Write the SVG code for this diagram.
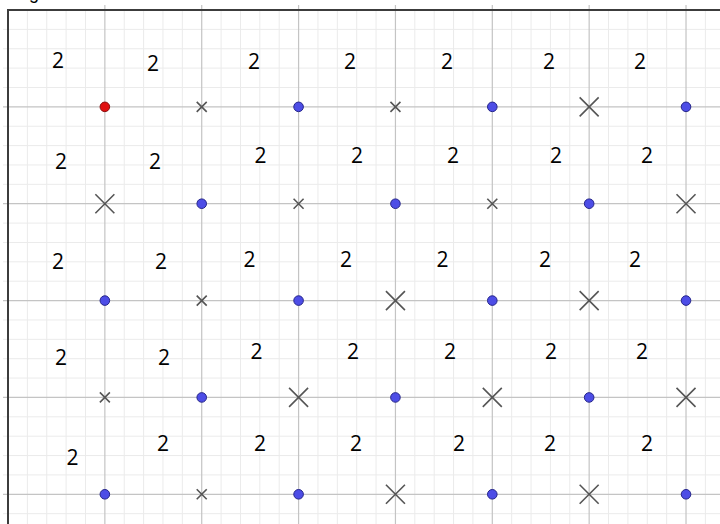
<svg xmlns="http://www.w3.org/2000/svg" xmlns:xlink="http://www.w3.org/1999/xlink" width="720" height="524" viewBox="0 0 720 524">
<style>
.minor{stroke:#ebebeb;stroke-width:1;fill:none}
.major{stroke:#c4c4c4;stroke-width:1.2;fill:none}
.border{stroke:#3c3c3c;stroke-width:2;fill:none}
.cross{stroke:#555;stroke-width:1.6;fill:none}
.dot{fill:#4d4de6;stroke:#25258a;stroke-width:1}
.red{fill:#e01010;stroke:#8a1010;stroke-width:1}
.lbl{font-family:"Open Sans","Liberation Sans",sans-serif;font-size:21px;fill:#000;text-anchor:middle}
</style>
<defs>
<path id="sx" class="cross" d="M-5,-5L5,5M-5,5L5,-5"/>
<path id="bx" class="cross" d="M-9.5,-9.5L9.5,9.5M-9.5,9.5L9.5,-9.5"/>
<circle id="bd" class="dot" r="4.8"/>
</defs>
<rect width="720" height="524" fill="#fff"/>
<g id="grid">
<path class="minor" d="M27.37,10V524M46.74,10V524M66.12,10V524M85.49,10V524M124.23,10V524M143.6,10V524M162.98,10V524M182.35,10V524M221.09,10V524M240.46,10V524M259.84,10V524M279.21,10V524M317.95,10V524M337.32,10V524M356.7,10V524M376.07,10V524M414.81,10V524M434.18,10V524M453.56,10V524M472.93,10V524M511.67,10V524M531.04,10V524M550.42,10V524M569.79,10V524M608.53,10V524M627.9,10V524M647.28,10V524M666.65,10V524M705.39,10V524
M3,29.37H720M3,48.74H720M3,68.12H720M3,87.49H720M3,126.23H720M3,145.6H720M3,164.98H720M3,184.35H720M3,223.09H720M3,242.46H720M3,261.84H720M3,281.21H720M3,319.95H720M3,339.32H720M3,358.7H720M3,378.07H720M3,416.81H720M3,436.18H720M3,455.56H720M3,474.93H720M3,513.67H720"/>
<path class="major" d="M104.86,5V524M201.72,5V524M298.58,5V524M395.44,5V524M492.3,5V524M589.16,5V524M686.02,5V524M3,106.86H720M3,203.72H720M3,300.58H720M3,397.44H720M3,494.3H720"/>
<path class="border" d="M8,524V10H720"/>
</g>
<text x="29" y="-1" style="font-family:'Liberation Sans',sans-serif;font-size:18px;fill:#000">g</text>
<g id="markers">
<g id="r0">
<circle id="m00" class="red" cx="104.86" cy="106.86" r="4.8"/>
<use id="m01" xlink:href="#sx" x="201.72" y="106.86"/>
<use id="m02" xlink:href="#bd" x="298.58" y="106.86"/>
<use id="m03" xlink:href="#sx" x="395.44" y="106.86"/>
<use id="m04" xlink:href="#bd" x="492.3" y="106.86"/>
<use id="m05" xlink:href="#bx" x="589.16" y="106.86"/>
<use id="m06" xlink:href="#bd" x="686.02" y="106.86"/>
</g>
<g id="r1">
<use id="m10" xlink:href="#bx" x="104.86" y="203.72"/>
<use id="m11" xlink:href="#bd" x="201.72" y="203.72"/>
<use id="m12" xlink:href="#sx" x="298.58" y="203.72"/>
<use id="m13" xlink:href="#bd" x="395.44" y="203.72"/>
<use id="m14" xlink:href="#sx" x="492.3" y="203.72"/>
<use id="m15" xlink:href="#bd" x="589.16" y="203.72"/>
<use id="m16" xlink:href="#bx" x="686.02" y="203.72"/>
</g>
<g id="r2">
<use id="m20" xlink:href="#bd" x="104.86" y="300.58"/>
<use id="m21" xlink:href="#sx" x="201.72" y="300.58"/>
<use id="m22" xlink:href="#bd" x="298.58" y="300.58"/>
<use id="m23" xlink:href="#bx" x="395.44" y="300.58"/>
<use id="m24" xlink:href="#bd" x="492.3" y="300.58"/>
<use id="m25" xlink:href="#bx" x="589.16" y="300.58"/>
<use id="m26" xlink:href="#bd" x="686.02" y="300.58"/>
</g>
<g id="r3">
<use id="m30" xlink:href="#sx" x="104.86" y="397.44"/>
<use id="m31" xlink:href="#bd" x="201.72" y="397.44"/>
<use id="m32" xlink:href="#bx" x="298.58" y="397.44"/>
<use id="m33" xlink:href="#bd" x="395.44" y="397.44"/>
<use id="m34" xlink:href="#bx" x="492.3" y="397.44"/>
<use id="m35" xlink:href="#bd" x="589.16" y="397.44"/>
<use id="m36" xlink:href="#bx" x="686.02" y="397.44"/>
</g>
<g id="r4">
<use id="m40" xlink:href="#bd" x="104.86" y="494.3"/>
<use id="m41" xlink:href="#sx" x="201.72" y="494.3"/>
<use id="m42" xlink:href="#bd" x="298.58" y="494.3"/>
<use id="m43" xlink:href="#bx" x="395.44" y="494.3"/>
<use id="m44" xlink:href="#bd" x="492.3" y="494.3"/>
<use id="m45" xlink:href="#bx" x="589.16" y="494.3"/>
<use id="m46" xlink:href="#bd" x="686.02" y="494.3"/>
</g>
</g>
<g id="labels" class="lbl">
<g id="la"><text x="58" y="68">2</text><text x="153" y="71">2</text><text x="254" y="69">2</text><text x="350" y="69">2</text><text x="447" y="69">2</text><text x="549" y="69">2</text><text x="640" y="69">2</text></g>
<g id="lb"><text x="61" y="169">2</text><text x="155" y="169">2</text><text x="260.5" y="163">2</text><text x="357" y="163">2</text><text x="453" y="163">2</text><text x="556" y="163">2</text><text x="647" y="163">2</text></g>
<g id="lc"><text x="58" y="269">2</text><text x="161" y="269">2</text><text x="249.5" y="267">2</text><text x="346" y="267">2</text><text x="442.5" y="267">2</text><text x="545" y="267">2</text><text x="635" y="267">2</text></g>
<g id="ld"><text x="61" y="365">2</text><text x="164" y="365">2</text><text x="256.5" y="359">2</text><text x="353" y="359">2</text><text x="450" y="359">2</text><text x="551" y="359">2</text><text x="642" y="359">2</text></g>
<g id="le"><text x="72.5" y="465">2</text><text x="163" y="451">2</text><text x="260" y="451">2</text><text x="356" y="451">2</text><text x="459" y="451">2</text><text x="550" y="451">2</text><text x="647" y="451">2</text></g>
</g>
</svg>
